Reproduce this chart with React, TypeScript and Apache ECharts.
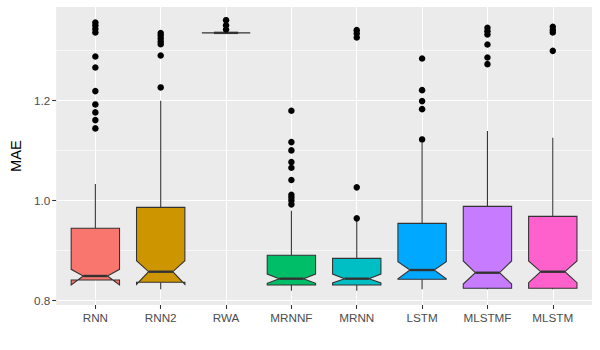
import React, { useEffect, useRef } from "react";
import * as echarts from "echarts";

const categories = ["RNN", "RNN2", "RWA", "MRNNF", "MRNN", "LSTM", "MLSTMF", "MLSTM"];
const whiskerLow = [0.8413, 0.8227, 1.3344, 0.8199, 0.8199, 0.8227, 0.8227, 0.8227];
const q1 = [0.8413, 0.8367, 1.3344, 0.8313, 0.8313, 0.8427, 0.8247, 0.8247];
const notchLow = [0.8313, 0.8327, 1.3344, 0.8347, 0.8355, 0.8435, 0.8333, 0.8359];
const median = [0.8493, 0.8578, 1.3344, 0.8439, 0.8439, 0.8612, 0.8558, 0.8578];
const notchHigh = [0.8626, 0.8798, 1.3344, 0.8532, 0.8532, 0.8778, 0.8792, 0.8792];
const q3 = [0.9444, 0.9862, 1.3344, 0.8905, 0.8845, 0.9543, 0.9882, 0.9683];
const whiskerHigh = [1.0327, 1.1988, 1.3344, 0.9795, 0.962, 1.1158, 1.1384, 1.1251];

const outliers: number[][] = [
  [1.3551, 1.349, 1.342, 1.335, 1.2873, 1.2654, 1.2182, 1.1916, 1.1757, 1.1603, 1.1438],
  [1.334, 1.329, 1.323, 1.317, 1.3119, 1.2893, 1.2255],
  [1.3597, 1.3497, 1.3411],
  [1.1789, 1.1164, 1.0999, 1.0766, 1.0652, 1.0407, 1.0114, 1.006, 1.0, 0.9922],
  [1.3398, 1.3332, 1.3252, 1.0261, 0.9643],
  [1.2833, 1.2201, 1.1982, 1.1822, 1.1218],
  [1.3444, 1.3378, 1.3312, 1.3112, 1.2853, 1.272],
  [1.3464, 1.34, 1.3352, 1.2985],
];

const yTicks = [0.8, 1.0, 1.2];
const yMinor = [0.9, 1.1, 1.3];
const xTicks = [1, 2, 3, 4, 5, 6, 7, 8];

const colors = ["#F8766D", "#CD9600", "#7CAE00", "#00BE67", "#00BFC4", "#00A9FF", "#C77CFF", "#FF61CC"];

const FONT = "Liberation Sans, Arial, sans-serif";

export default function App() {
  const ref = useRef<HTMLDivElement>(null);
  useEffect(() => {
    if (!ref.current) return;
    const chart = echarts.init(ref.current, undefined, { renderer: "svg" });

    const boxData = categories.map((c, i) => [
      i + 1,
      whiskerLow[i],
      q1[i],
      notchLow[i],
      median[i],
      notchHigh[i],
      q3[i],
      whiskerHigh[i],
    ]);
    const outlierData: number[][] = [];
    outliers.forEach((arr, i) => arr.forEach((v) => outlierData.push([i + 1, v])));

    const gridLines: any[] = [];
    yTicks.forEach((v) => gridLines.push({ yAxis: v, lineStyle: { color: "#FFFFFF", width: 1.07, type: "solid" } }));
    yMinor.forEach((v) => gridLines.push({ yAxis: v, lineStyle: { color: "#FFFFFF", width: 0.6, type: "solid" } }));
    xTicks.forEach((v) => gridLines.push({ xAxis: v, lineStyle: { color: "#FFFFFF", width: 1.07, type: "solid" } }));

    const option: any = {
      animation: false,
      grid: {
        left: 51,
        right: 8,
        top: 7,
        bottom: 45,
        show: true,
        backgroundColor: "#EBEBEB",
        borderWidth: 0,
      },
      xAxis: {
        type: "value",
        min: 0.4,
        max: 8.6,
        splitLine: { show: false },
        axisLine: { show: false },
        axisTick: {
          show: true,
          customValues: xTicks,
          length: 4,
          lineStyle: { color: "#333333", width: 1.07 },
        },
        axisLabel: {
          customValues: xTicks,
          formatter: (v: number) => categories[Math.round(v) - 1] ?? "",
          color: "#4D4D4D",
          fontSize: 11.7,
          fontFamily: FONT,
          margin: 6,
        },
      },
      yAxis: {
        type: "value",
        min: 0.7914,
        max: 1.386,
        splitLine: { show: false },
        axisLine: { show: false },
        axisTick: {
          show: true,
          customValues: yTicks,
          length: 4,
          lineStyle: { color: "#333333", width: 1.07 },
        },
        axisLabel: {
          customValues: yTicks,
          formatter: (v: number) => v.toFixed(1),
          color: "#4D4D4D",
          fontSize: 11.7,
          fontFamily: FONT,
          margin: 6,
        },
        name: "MAE",
        nameLocation: "middle",
        nameRotate: 90,
        nameGap: 26,
        nameTextStyle: { color: "#000000", fontSize: 14.7, fontFamily: FONT },
      },
      series: [
        {
          type: "scatter",
          data: [],
          z: 0,
          silent: true,
          markLine: {
            z: 0,
            silent: true,
            symbol: ["none", "none"],
            label: { show: false },
            emphasis: { disabled: true },
            data: gridLines,
          },
        },
        {
          type: "custom",
          z: 2,
          silent: true,
          encode: { x: 0, y: [1, 2, 3, 4, 5, 6, 7] },
          data: boxData,
          renderItem: (params: any, api: any) => {
            const x = api.value(0);
            const wl = api.value(1);
            const lq = api.value(2);
            const nl = api.value(3);
            const md = api.value(4);
            const nh = api.value(5);
            const uq = api.value(6);
            const wh = api.value(7);
            const cx = api.coord([x, md])[0];
            const Y = (v: number) => api.coord([x, v])[1];
            const hw = api.size([1, 0])[0] * 0.37;
            const xmin = cx - hw;
            const xmax = cx + hw;
            const inset = hw * 0.5;
            const stroke = "#333333";
            const color = colors[params.dataIndex];
            return {
              type: "group",
              children: [
                {
                  type: "line",
                  shape: { x1: cx, y1: Y(uq), x2: cx, y2: Y(wh) },
                  style: { stroke, lineWidth: 1.07 },
                },
                {
                  type: "line",
                  shape: { x1: cx, y1: Y(lq), x2: cx, y2: Y(wl) },
                  style: { stroke, lineWidth: 1.07 },
                },
                {
                  type: "polygon",
                  shape: {
                    points: [
                      [xmin, Y(uq)],
                      [xmin, Y(nh)],
                      [xmin + inset, Y(md)],
                      [xmin, Y(nl)],
                      [xmin, Y(lq)],
                      [xmax, Y(lq)],
                      [xmax, Y(nl)],
                      [xmax - inset, Y(md)],
                      [xmax, Y(nh)],
                      [xmax, Y(uq)],
                    ],
                  },
                  style: { fill: color, stroke, lineWidth: 1.07 },
                },
                {
                  type: "line",
                  shape: { x1: xmin + inset, y1: Y(md), x2: xmax - inset, y2: Y(md) },
                  style: { stroke, lineWidth: 2.4 },
                },
              ],
            };
          },
        },
        {
          type: "scatter",
          z: 3,
          silent: true,
          symbol: "circle",
          symbolSize: 6.5,
          itemStyle: { color: "#000000", opacity: 1 },
          data: outlierData,
        },
      ],
    };
    chart.setOption(option);
    return () => chart.dispose();
  }, []);

  return (
    <div
      ref={ref}
      style={{ position: "fixed", left: 0, top: 0, width: 600, height: 350, background: "#FFFFFF" }}
    />
  );
}
